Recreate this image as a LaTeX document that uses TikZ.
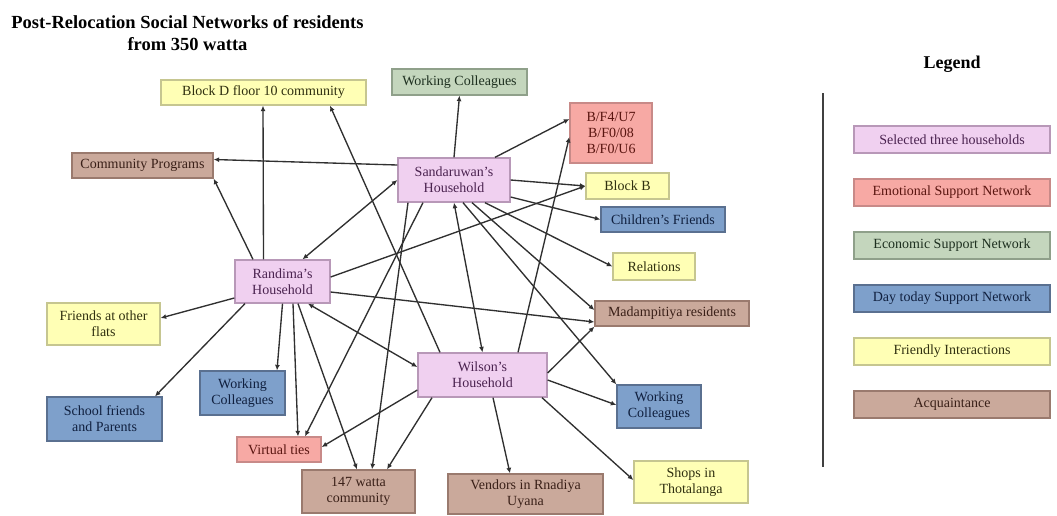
\documentclass[tikz,border=0pt]{standalone}
\usepackage{fontspec}
\setmainfont{Liberation Serif}
\usetikzlibrary{arrows.meta}

% category colours: fill, border, text
\definecolor{hhFill}{HTML}{F0D0F0}\definecolor{hhLine}{HTML}{B898B8}\definecolor{hhText}{HTML}{4B2350}
\definecolor{emFill}{HTML}{F7A9A4}\definecolor{emLine}{HTML}{C88A88}\definecolor{emText}{HTML}{5A1510}
\definecolor{ecFill}{HTML}{C4D6BD}\definecolor{ecLine}{HTML}{8FA08A}\definecolor{ecText}{HTML}{1E3020}
\definecolor{dyFill}{HTML}{7EA0CB}\definecolor{dyLine}{HTML}{5A7090}\definecolor{dyText}{HTML}{10203F}
\definecolor{frFill}{HTML}{FFFFB5}\definecolor{frLine}{HTML}{C6C690}\definecolor{frText}{HTML}{303010}
\definecolor{acFill}{HTML}{CAA99B}\definecolor{acLine}{HTML}{9A7A6E}\definecolor{acText}{HTML}{3A2018}
\definecolor{edgeCol}{HTML}{303030}

\begin{document}
\begin{tikzpicture}[x=1pt,y=-1pt,
  box/.style={rectangle, draw, line width=1.3pt, inner sep=0pt, align=center,
              font=\fontsize{14}{16}\selectfont},
  hh/.style={box, fill=hhFill, draw=hhLine, text=hhText},
  emo/.style={box, fill=emFill, draw=emLine, text=emText},
  eco/.style={box, fill=ecFill, draw=ecLine, text=ecText},
  day/.style={box, fill=dyFill, draw=dyLine, text=dyText},
  fri/.style={box, fill=frFill, draw=frLine, text=frText},
  acq/.style={box, fill=acFill, draw=acLine, text=acText},
  sz/.style 2 args={minimum width=#1pt, minimum height=#2pt},
  tip/.tip={Latex[length=5.5pt,width=5pt]},
  conn/.style={draw=edgeCol, line width=1.35pt, -tip},
  biconn/.style={draw=edgeCol, line width=1.35pt, tip-tip},
  legbox/.style={sz={196}{27}}
]
\useasboundingbox (0,0) rectangle (1057,515);

% title
\node[font=\fontsize{18.5}{22}\selectfont\bfseries, align=center] (title) at (187.5,33)
  {Post-Relocation Social Networks of residents\\from 350 watta};

% households
\node[hh, sz={112}{44}] (sand) at (454,180) {Sandaruwan’s\\Household};
\node[hh, sz={95}{43}]  (rand) at (282.5,281.5) {Randima’s\\Household};
\node[hh, sz={129}{44}] (wil)  at (482.5,375) {Wilson’s\\Household};

% surrounding ties
\node[fri, sz={205}{25}] (blockD) at (263.5,92.5) {Block D floor 10 community};
\node[eco, sz={135}{26}] (wcG) at (459.5,82) {Working Colleagues};
\node[emo, sz={82}{60}]  (bf) at (611,133) {B/F4/U7\\B/F0/08\\B/F0/U6};
\node[fri, sz={83}{26}]  (blockB) at (627.5,186) {Block B};
\node[day, sz={124}{25}] (child) at (663,219.5) {Children’s Friends};
\node[fri, sz={82}{27}]  (rel) at (654,266.5) {Relations};
\node[acq, sz={141}{25}] (commP) at (142.5,165.5) {Community Programs};
\node[fri, sz={113}{42}] (friends) at (103.5,324) {Friends at other\\flats};
\node[day, sz={115}{44}] (school) at (104.5,419) {School friends\\and Parents};
\node[day, sz={85}{44}]  (wcL) at (242.5,393) {Working\\Colleagues};
\node[emo, sz={84}{25}]  (virt) at (279,449.5) {Virtual ties};
\node[acq, sz={113}{43}] (w147) at (358.5,491.5) {147 watta\\community};
\node[acq, sz={155}{40}] (vend) at (525.5,494) {Vendors in Rnadiya\\Uyana};
\node[day, sz={84}{43}]  (wcR) at (659,406.5) {Working\\Colleagues};
\node[fri, sz={114}{42}] (shops) at (691,482) {Shops in\\Thotalanga};
\node[acq, sz={154}{25}] (mad) at (672,313.5) {Madampitiya residents};

% Sandaruwan's ties
\draw[conn] (sand.north) -- (wcG.south);
\draw[conn] ([xshift=41pt]sand.north) -- ([yshift=14pt]bf.west);
\draw[conn] (sand.east) -- (blockB.west);
\draw[conn] ([yshift=-17pt]sand.east) -- (child.west);
\draw[conn] ([xshift=31pt]sand.south) -- (rel.west);
\draw[conn] ([yshift=15pt]sand.west) -- ([yshift=6pt]commP.east);
\draw[biconn] (sand.west) -- ([xshift=20pt]rand.north);
\draw[biconn] (sand.south) -- (wil.north);
\draw[conn] ([xshift=18pt]sand.south) -- ([yshift=3.5pt]mad.west);
\draw[conn] ([xshift=9pt]sand.south) -- (wcR.north west);
\draw[conn] ([xshift=-31pt]sand.south) -- ([xshift=26pt]virt.north);
\draw[conn] ([xshift=-46pt]sand.south) -- ([xshift=13.5pt]w147.north);

% Randima's ties
\draw[conn] ([xshift=-29.5pt]rand.north) -- (commP.south east);
\draw[conn] ([xshift=-19pt]rand.north) -- ([xshift=-0.5pt]blockD.south);
\draw[conn] ([yshift=4.5pt]rand.east) -- (blockB.west);
\draw[conn] ([yshift=-10.5pt]rand.east) -- ([yshift=-8.5pt]mad.west);
\draw[biconn] ([xshift=25.5pt]rand.south) -- ([yshift=8pt]wil.west);
\draw[conn] ([yshift=-16.5pt]rand.west) -- ([yshift=6pt]friends.east);
\draw[conn] ([xshift=-37.5pt]rand.south) -- ([xshift=50.5pt]school.north);
\draw[conn] (rand.south) -- ([xshift=34.5pt]wcL.north);
\draw[conn] ([xshift=10.5pt]rand.south) -- ([xshift=19pt]virt.north);
\draw[conn] ([xshift=15.5pt]rand.south) -- ([xshift=-1.5pt]w147.north);

% Wilson's ties
\draw[conn] ([xshift=-42.5pt]wil.north) -- ([xshift=66.5pt]blockD.south);
\draw[conn] ([yshift=2pt]wil.east) -- (mad.south west);
\draw[conn] ([xshift=35.5pt]wil.north) -- ([yshift=-4pt]bf.west);
\draw[conn] ([yshift=-5pt]wil.east) -- ([yshift=1.5pt]wcR.west);
\draw[conn] ([xshift=59.5pt]wil.south) -- ([yshift=2pt]shops.west);
\draw[conn] ([xshift=10.5pt]wil.south) -- ([xshift=-15.5pt]vend.north);
\draw[conn] ([xshift=-50.5pt]wil.south) -- ([xshift=28.5pt]w147.north);
\draw[conn] ([yshift=-15pt]wil.west) -- ([yshift=2.5pt]virt.east);

% legend
\node[font=\fontsize{18}{22}\selectfont\bfseries] (legT) at (952,64) {Legend};
\coordinate (legTop) at (823,93);
\coordinate (legBot) at (823,467);
\draw[draw=black!75, line width=2pt] (legTop) -- (legBot);
\node[hh,  legbox] (l1) at (952,139.5) {Selected three households};
\node[emo, legbox] (l2) at (952,192.5) {Emotional Support Network};
\node[eco, legbox] (l3) at (952,245.5) {Economic Support Network};
\node[day, legbox] (l4) at (952,298.5) {Day today Support Network};
\node[fri, legbox] (l5) at (952,351.5) {Friendly Interactions};
\node[acq, legbox] (l6) at (952,404.5) {Acquaintance};
\end{tikzpicture}
\end{document}
